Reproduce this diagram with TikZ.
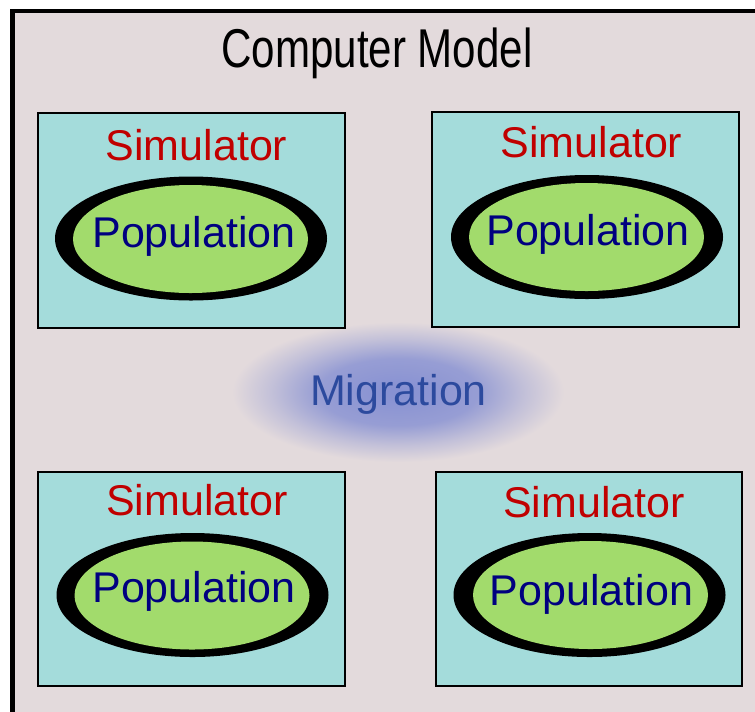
\documentclass[tikz,border=0pt]{standalone}
\usepackage{fontspec}
\setmainfont{Liberation Sans}
\newfontfamily\titlefont[FakeStretch=0.77]{Liberation Sans}
\usetikzlibrary{shapes.geometric}

\definecolor{framebg}{HTML}{E3DADC}
\definecolor{boxc}{HTML}{A4DCDB}
\definecolor{popc}{HTML}{A2DB6C}
\definecolor{simred}{HTML}{C00000}
\definecolor{popblue}{HTML}{000080}
\definecolor{migc}{HTML}{2C4A9E}
\definecolor{glowcore}{HTML}{8690D2}

% soft halo behind the migration label
\pgfdeclareradialshading{migglow}{\pgfpoint{0bp}{0bp}}{%
  color(0bp)=(glowcore); color(12bp)=(glowcore!82!framebg);
  color(19bp)=(glowcore!35!framebg);
  color(25bp)=(framebg); color(50bp)=(framebg)}

\tikzset{
  simbox/.style={draw=black, fill=boxc, line width=1.5pt, inner sep=0pt,
    minimum width=307*0.75pt, minimum height=215*0.75pt},
  rim/.style={ellipse, fill=black, inner sep=0pt,
    minimum width=272*0.75pt, minimum height=124*0.75pt},
  core/.style={ellipse, fill=popc, inner sep=0pt,
    minimum width=235*0.75pt, minimum height=108*0.75pt},
  simlabel/.style={anchor=base, text=simred, inner sep=0pt,
    font=\fontsize{32.25pt}{38pt}\selectfont},
  poplabel/.style={anchor=base, text=popblue, inner sep=0pt,
    font=\fontsize{32.25pt}{38pt}\selectfont},
}

\begin{document}
\begin{tikzpicture}[x=0.75pt,y=-0.75pt]
\clip (0,0) rectangle (755,711);
\fill[white] (0,0) rectangle (755,711);

% outer frame of the computer model
\draw[line width=3.4pt, fill=framebg] (12.5,11) rectangle (790,750);
\node[anchor=base, inner sep=0pt] (title) at (377,67)
  {\titlefont\fontsize{41pt}{48pt}\selectfont Computer Model};

% migration halo and label
\shade[shading=migglow] (232,322) rectangle (564,462);
\node[anchor=base, inner sep=0pt, text=migc,
  font=\fontsize{32.25pt}{38pt}\selectfont] (mig) at (398.5,405) {Migration};

% top left simulator
\node[simbox] (sim1) at (191.5,220.5) {};
\node[rim] (rim1) at (191,238.5) {};
\node[core] (pop1) at (190.5,239) {};
\node[simlabel] (sl1) at (196.5,160) {Simulator};
\node[poplabel] (pl1) at (194,247) {Population};

% top right simulator
\node[simbox] (sim2) at (585.5,219.5) {};
\node[rim] (rim2) at (587,237) {};
\node[core] (pop2) at (586.5,237) {};
\node[simlabel] (sl2) at (591.5,157) {Simulator};
\node[poplabel] (pl2) at (588,245) {Population};

% bottom left simulator
\node[simbox, minimum height=214*0.75pt] (sim3) at (191.5,579) {};
\node[rim] (rim3) at (192.5,595) {};
\node[core] (pop3) at (192,595.5) {};
\node[simlabel] (sl3) at (197,515) {Simulator};
\node[poplabel] (pl3) at (194,602) {Population};

% bottom right simulator
\node[simbox, minimum width=306*0.75pt, minimum height=214*0.75pt] (sim4) at (589,579) {};
\node[rim] (rim4) at (589.5,595) {};
\node[core] (pop4) at (590.5,595) {};
\node[simlabel] (sl4) at (594,517) {Simulator};
\node[poplabel] (pl4) at (591.5,605) {Population};
\end{tikzpicture}
\end{document}
